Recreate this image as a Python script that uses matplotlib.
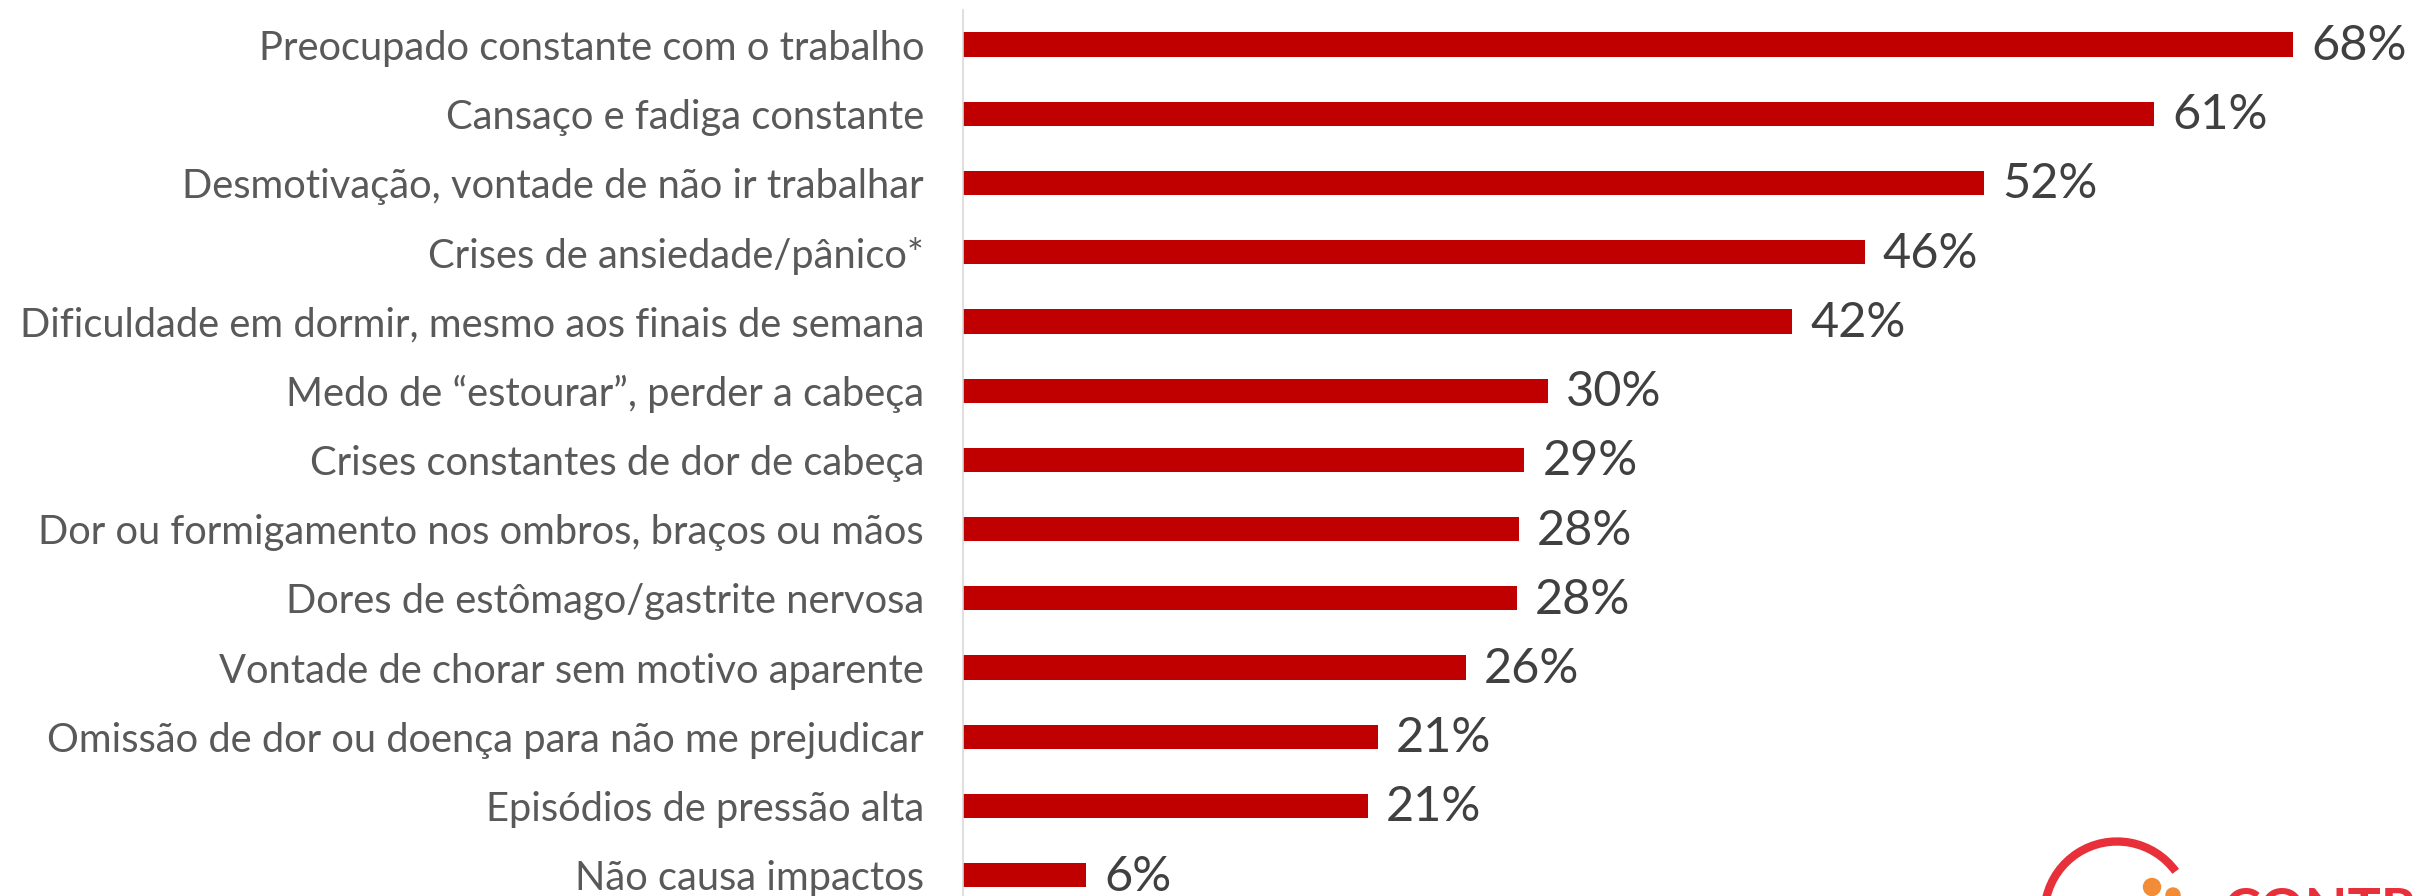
import matplotlib
matplotlib.use("Agg")
import matplotlib.pyplot as plt
from matplotlib.patches import Arc, Circle

categories = [
    "Preocupado constante com o trabalho",
    "Cansaço e fadiga constante",
    "Desmotivação, vontade de não ir trabalhar",
    "Crises de ansiedade/pânico*",
    "Dificuldade em dormir, mesmo aos finais de semana",
    "Medo de “estourar”, perder a cabeça",
    "Crises constantes de dor de cabeça",
    "Dor ou formigamento nos ombros, braços ou mãos",
    "Dores de estômago/gastrite nervosa",
    "Vontade de chorar sem motivo aparente",
    "Omissão de dor ou doença para não me prejudicar",
    "Episódios de pressão alta",
    "Não causa impactos",
]
values = [68.0, 60.9, 52.2, 46.1, 42.4, 29.9, 28.7, 28.4, 28.3, 25.7, 21.2, 20.7, 6.3]
value_labels = ["68%", "61%", "52%", "46%", "42%", "30%", "29%", "28%", "28%", "26%", "21%", "21%", "6%"]

W, H = 2424, 896
fig = plt.figure(figsize=(W / 100, H / 100), dpi=100)
fig.patch.set_facecolor("white")

ax_left = 963
top_px, bot_px = 9.9, 909.9
ax = fig.add_axes([ax_left / W, (H - bot_px) / H, (W - ax_left) / W, (bot_px - top_px) / H])

y = list(range(len(categories)))
ax.barh(y, values, height=0.35, color="#C00000", edgecolor="none")
ax.set_ylim(len(categories) - 0.5, -0.5)
ax.set_xlim(0, (W - ax_left) / 19.56)

for yi, v, lab in zip(y, values, value_labels):
    ax.annotate(lab, xy=(v, yi), xytext=(13, -1), textcoords="offset points",
                ha="left", va="center", fontsize=35, color="#404040", family="Lato")

ax.set_yticks(y)
ax.set_yticklabels(categories, fontsize=28.7, color="#595959", family="Lato")
ax.tick_params(axis="y", length=0, pad=28)
ax.set_xticks([])
for s in ["top", "right", "bottom"]:
    ax.spines[s].set_visible(False)
ax.spines["left"].set_color("#D9D9D9")
ax.spines["left"].set_linewidth(1.2)
ax.set_facecolor("none")

# partial logo at bottom right (mostly cropped, as in the reference)
lax = fig.add_axes([0, 0, 1, 1])
lax.set_xlim(0, W)
lax.set_ylim(H, 0)
lax.axis("off")
lax.add_patch(Arc((2117, 914), 145, 145, theta1=150, theta2=324, color="#E8303A", lw=6))
lax.add_patch(Circle((2152, 887), 8.5, color="#F28C38"))
lax.add_patch(Circle((2173, 895), 7, color="#F28C38"))
lax.text(2224, 887, "CONTRAF", color="#E8303A", fontsize=40, fontweight="bold",
         family="Lato", ha="left", va="top")

fig.savefig("out.png", dpi=100)
